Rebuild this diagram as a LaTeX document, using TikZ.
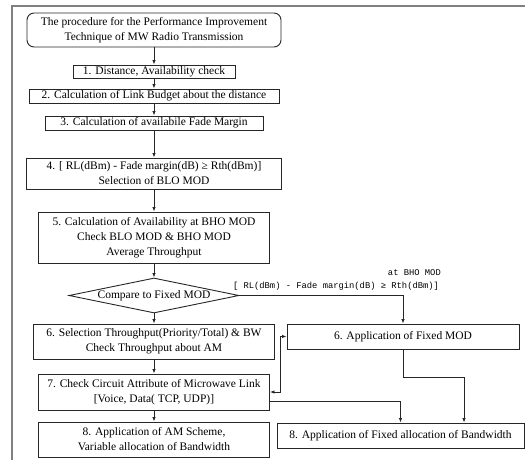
\documentclass[tikz,border=0pt]{standalone}
\usepackage{fontspec}
\setmainfont{Liberation Serif}
\newfontfamily\lblfont{Liberation Mono}
\usetikzlibrary{shapes.geometric,arrows.meta}
\tikzset{
  box/.style={draw=black!85, line width=0.9pt, align=center, inner sep=0pt,
    font=\fontsize{11.5}{15}\selectfont},
  startbox/.style={box, rounded corners=7pt},
  decision/.style={draw=black!85, line width=0.9pt, diamond, aspect=4.86, inner sep=0pt,
    font=\fontsize{11.5}{15}\selectfont},
  conn/.style={line width=0.8pt, black!85, -{Latex[length=4.5pt,width=3.5pt]}},
  dconn/.style={line width=0.8pt, black!85, {Latex[length=4.5pt,width=3.5pt]}-{Latex[length=4.5pt,width=3.5pt]}},
  lbl/.style={font=\lblfont\fontsize{8.8}{10}\selectfont, inner sep=0pt},
  frame/.style={draw=black!50, line width=1.5pt}
}
\begin{document}
\begin{tikzpicture}[x=1pt,y=-1pt]
\useasboundingbox (0,0) rectangle (525,460);
\draw[frame] (12,460) -- (12,6) -- (525,6);

\node[startbox, minimum width=254pt, minimum height=34pt] (t) at (154,30)
  {The procedure for the Performance Improvement\\Technique of MW Radio Transmission};
\node[box, minimum width=162pt, minimum height=13pt] (b1) at (154,71.5)
  {1. Distance, Availability check};
\node[box, minimum width=250pt, minimum height=14pt] (b2) at (154,96)
  {2. Calculation of Link Budget about the distance};
\node[box, minimum width=218pt, minimum height=14pt] (b3) at (154,123)
  {3. Calculation of availabile Fade Margin};
\node[box, minimum width=255pt, minimum height=31pt] (b4) at (154,173.5)
  {4. [ RL(dBm) - Fade margin(dB) ≥ Rth(dBm)]\\Selection of BLO MOD};
\node[box, minimum width=231pt, minimum height=51pt] (b5) at (154,237.5)
  {5. Calculation of Availability at BHO MOD\\Check BLO MOD \& BHO MOD\\Average Throughput};
\node[decision, minimum width=170pt, minimum height=35pt] (d) at (154,295.5)
  {Compare to Fixed MOD};
\node[box, minimum width=241pt, minimum height=35pt] (b6) at (154,341.5)
  {6. Selection Throughput(Priority/Total) \& BW\\Check Throughput about AM};
\node[box, minimum width=231pt, minimum height=36pt] (b7) at (154,392)
  {7. Check Circuit Attribute of Microwave Link\\{}[Voice, Data( TCP, UDP)]};
\node[box, minimum width=231pt, minimum height=35pt] (b8) at (154,439.5)
  {8. Application of AM Scheme,\\Variable allocation of Bandwidth};
\node[box, minimum width=232pt, minimum height=25pt] (f6) at (403,336.5)
  {6. Application of Fixed MOD};
\node[box, minimum width=247pt, minimum height=25pt] (f8) at (400.5,435.5)
  {8. Application of Fixed allocation of Bandwidth};

\node[lbl, anchor=base] (l1) at (336,288) {[ RL(dBm) - Fade margin(dB) ≥ Rth(dBm)]};
\node[lbl, anchor=base east] (l2) at (441,275) {at BHO MOD};

\draw[conn] (t) -- (b1);
\draw[conn] (b1) -- (b2);
\draw[conn] (b2) -- (b3);
\draw[conn] (b3) -- (b4);
\draw[conn] (b4) -- (b5);
\draw[conn] (b5) -- (d);
\draw[conn] (d) -- (b6);
\draw[conn] (b6) -- (b7);
\draw[conn] (b7) -- (b8);
\draw[conn] (d.east) -| (f6.north);
\draw[conn] (f6.south) -- ++(0,28) -| ([xshift=63.5pt]f8.north);
\draw[conn] ([yshift=-9pt]b7.east) -| (f8.north);
\draw[dconn] (b7.east) -- ++(10,0) |- (f6.west);
\end{tikzpicture}
\end{document}
